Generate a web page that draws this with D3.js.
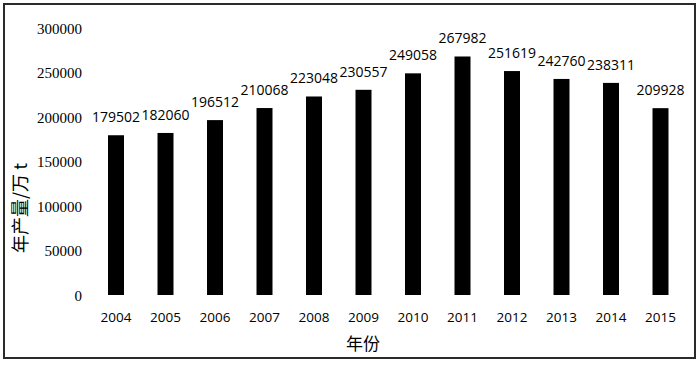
<!DOCTYPE html>
<html>
<head>
<meta charset="utf-8">
<script src="https://cdn.jsdelivr.net/npm/d3@7"></script>
<style>
  body { margin: 0; background: #fff; }
  svg { display: block; }
</style>
</head>
<body>
<div id="chart"></div>
<script>
const width = 700;
const height = 365;

// dados
const years = ["2004", "2005", "2006", "2007", "2008", "2009", "2010", "2011", "2012", "2013", "2014", "2015"];
const output = [179502, 182060, 196512, 210068, 223048, 230557, 249058, 267982, 251619, 242760, 238311, 209928];
const yTicks = [0, 50000, 100000, 150000, 200000, 250000, 300000];
const yTitle = "年产量/万 t";
const xTitle = "年份";

const svg = d3
  .select("#chart")
  .append("svg")
  .attr("width", width)
  .attr("height", height);

// moldura
svg
  .append("rect")
  .attr("x", 4)
  .attr("y", 4)
  .attr("width", 691)
  .attr("height", 354)
  .attr("fill", "#fff")
  .attr("stroke", "#2a2a2a")
  .attr("stroke-width", 2);

// x
const xScale = d3
  .scaleBand()
  .domain(years)
  .range([91.25, 685.25])
  .paddingInner(0.677)
  .paddingOuter(0.677 / 2);

// y
const yScale = d3.scaleLinear().domain([0, 300000]).range([295, 28]);

// eixo y
const yAxis = svg
  .append("g")
  .attr("transform", "translate(82, 0)")
  .call(d3.axisLeft(yScale).tickValues(yTicks).tickSize(0).tickPadding(0).tickFormat(d3.format("d")));
yAxis.select(".domain").remove();
yAxis
  .selectAll("text")
  .attr("font-family", "'Liberation Serif', 'Times New Roman', serif")
  .attr("font-size", 15)
  .attr("fill", "#000")
  .attr("dy", "0.34em");

// eixo x
const xAxis = svg
  .append("g")
  .attr("transform", "translate(0, 295)")
  .call(d3.axisBottom(xScale).tickSize(0).tickPadding(17));
xAxis.select(".domain").remove();
xAxis
  .selectAll("text")
  .attr("font-family", "'Open Sans', Lato, sans-serif")
  .attr("font-size", 13.5)
  .attr("fill", "#000");

// barras
svg
  .selectAll(".bar")
  .data(output)
  .enter()
  .append("rect")
  .attr("class", "bar")
  .attr("x", (d, i) => xScale(years[i]))
  .attr("y", (d) => yScale(d))
  .attr("width", xScale.bandwidth())
  .attr("height", (d) => yScale(0) - yScale(d))
  .attr("fill", "#000");

// rótulos
svg
  .selectAll(".label")
  .data(output)
  .enter()
  .append("text")
  .attr("class", "label")
  .attr("x", (d, i) => xScale(years[i]) + xScale.bandwidth() / 2)
  .attr("y", (d) => yScale(d) - 13)
  .attr("text-anchor", "middle")
  .attr("font-family", "'Open Sans', Lato, sans-serif")
  .attr("font-size", 14)
  .attr("fill", "#000")
  .text((d) => d);

// títulos
svg
  .append("text")
  .attr("transform", "translate(27, 208) rotate(-90)")
  .attr("text-anchor", "middle")
  .attr("font-family", "'Noto Sans CJK SC', sans-serif")
  .attr("font-size", 18)
  .attr("fill", "#000")
  .text(yTitle);

svg
  .append("text")
  .attr("x", 363)
  .attr("y", 350)
  .attr("text-anchor", "middle")
  .attr("font-family", "'Noto Sans CJK SC', sans-serif")
  .attr("font-size", 17)
  .attr("fill", "#000")
  .text(xTitle);
</script>
</body>
</html>
